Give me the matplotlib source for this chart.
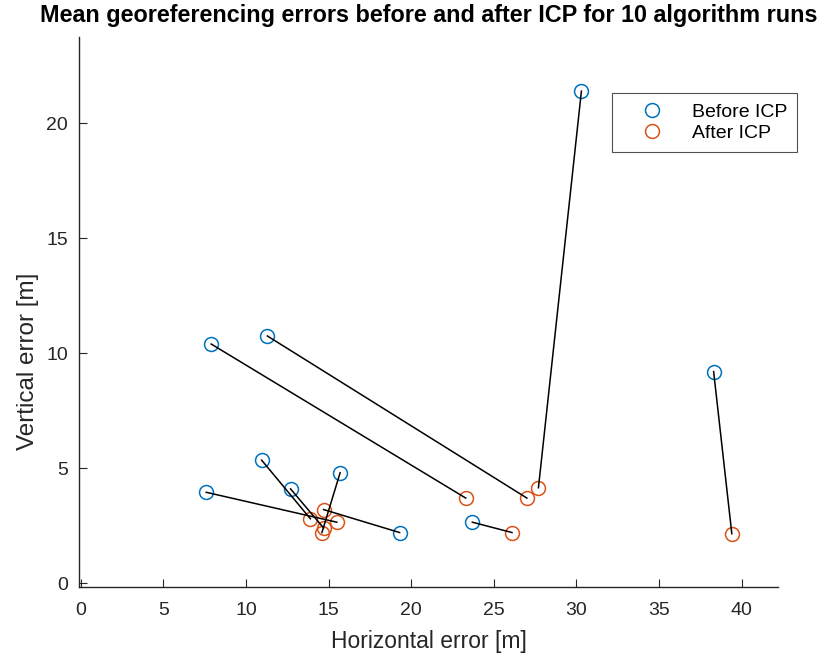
import matplotlib
matplotlib.use("Agg")
import matplotlib.pyplot as plt
import numpy as np

# Mean errors per run, before and after ICP refinement
before_h = [30.3, 38.3, 7.9, 11.3, 10.95, 7.6, 12.7, 15.7, 19.3, 23.7]
before_v = [21.4, 9.2, 10.4, 10.75, 5.35, 3.95, 4.1, 4.8, 2.2, 2.65]
after_h = [27.7, 39.4, 23.3, 27.0, 13.9, 15.5, 14.7, 14.6, 14.7, 26.1]
after_v = [4.15, 2.15, 3.7, 3.7, 2.8, 2.65, 2.4, 2.2, 3.2, 2.2]

x_ticks = [0, 5, 10, 15, 20, 25, 30, 35, 40]
y_ticks = [0, 5, 10, 15, 20]

blue = "#0072BD"
orange = "#D95319"

plt.rcParams["font.family"] = ["Liberation Sans", "DejaVu Sans"]

fig = plt.figure(figsize=(8.26, 6.63), dpi=100)
ax = fig.add_axes([0.0956, 0.1146, 0.8464, 0.8294])

for bh, bv, ah, av in zip(before_h, before_v, after_h, after_v):
    ax.plot([bh, ah], [bv, av], color="black", lw=1.1, zorder=3)

ax.plot(before_h, before_v, "o", mfc="none", mec=blue, ms=10, mew=1.1,
        label="Before ICP", zorder=2)
ax.plot(after_h, after_v, "o", mfc="none", mec=orange, ms=10, mew=1.1,
        label="After ICP", zorder=2)

ax.set_xlim(-0.1, 42.2)
ax.set_ylim(-0.17, 23.75)
ax.set_xticks(x_ticks)
ax.set_yticks(y_ticks)
ax.tick_params(direction="in", length=6, width=0.8, labelsize=14,
               colors="#262626")
ax.tick_params(axis="x", pad=11)
ax.tick_params(axis="y", pad=8)
for s in ("top", "right"):
    ax.spines[s].set_visible(False)
for s in ("left", "bottom"):
    ax.spines[s].set_color("#262626")
    ax.spines[s].set_linewidth(1.0)

ax.set_xlabel("Horizontal error [m]", fontsize=16.5, color="#262626", labelpad=8)
ax.set_ylabel("Vertical error [m]", fontsize=17.5, color="#262626")
ax.yaxis.set_label_coords(-0.057, 0.41)
ax.set_title("Mean georeferencing errors before and after ICP for 10 algorithm runs",
             fontsize=16.8, fontweight="bold", pad=11)

leg = ax.legend(loc="upper right", bbox_to_anchor=(1.027, 0.898), fontsize=14,
                frameon=True, fancybox=False, edgecolor="#262626",
                handlelength=3.1, handletextpad=0.5, borderpad=0.5,
                labelspacing=0.2, borderaxespad=0)
leg.get_frame().set_linewidth(0.8)

fig.savefig("out.png", dpi=100)
